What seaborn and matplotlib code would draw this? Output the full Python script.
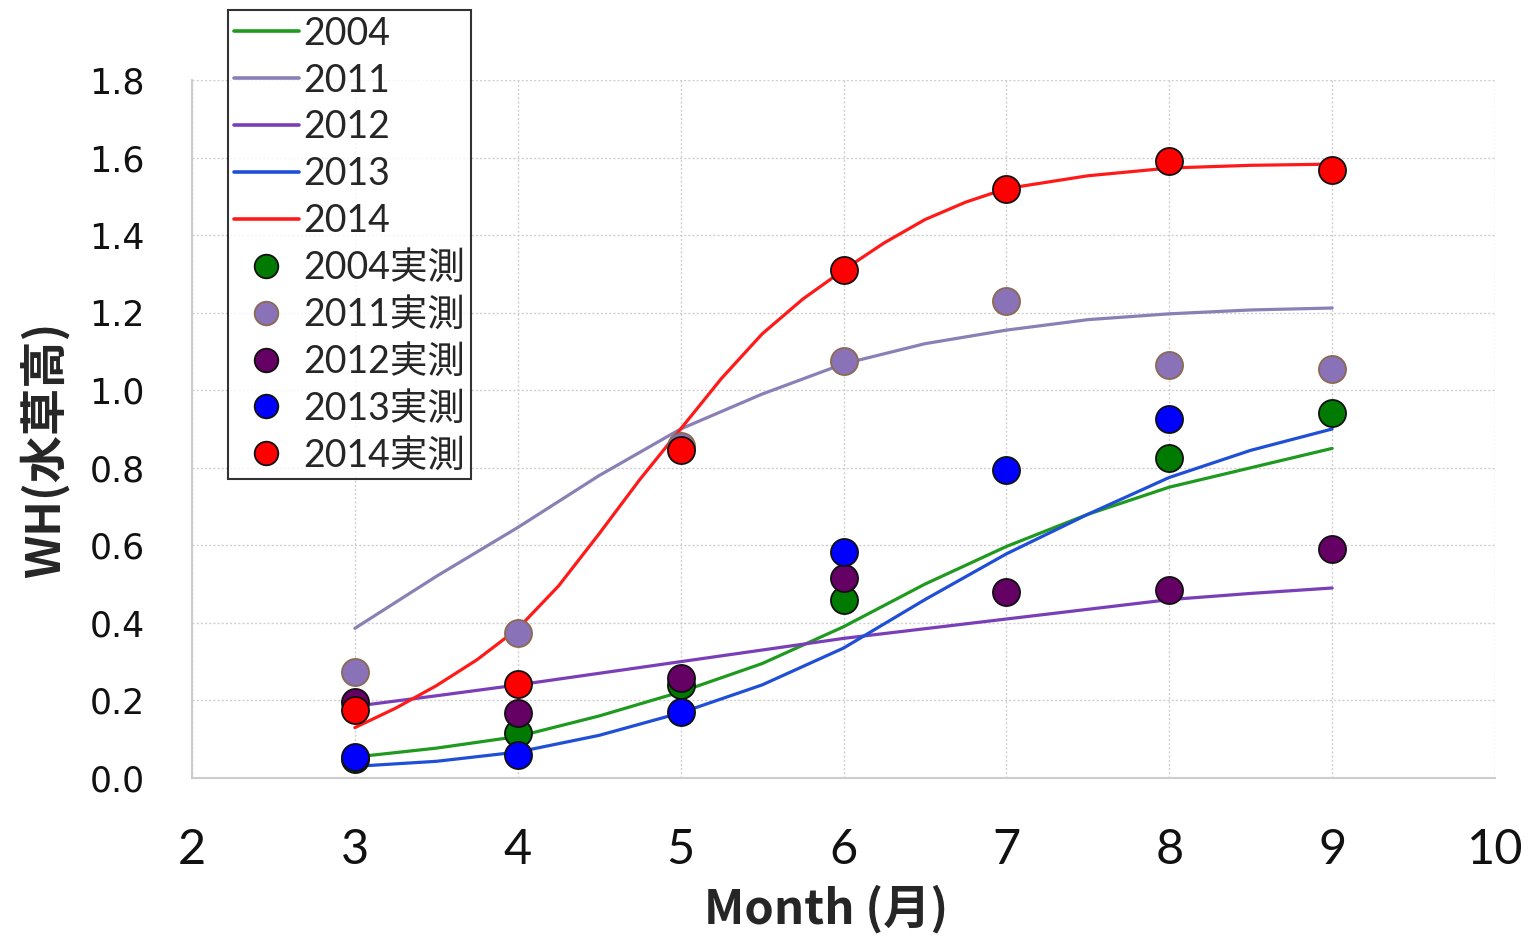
import numpy as np
import pandas as pd
import matplotlib
matplotlib.use("Agg")
import matplotlib.pyplot as plt
from matplotlib.lines import Line2D
import seaborn as sns

# ---- data -------------------------------------------------------------
years = ["2004", "2011", "2012", "2013", "2014"]

# fitted growth curves (month, WH)
fit_months = [3.0, 3.5, 4.0, 4.5, 5.0, 5.5, 6.0, 6.5, 7.0, 7.5, 8.0, 8.5, 9.0]
fit_2004 = [0.054, 0.077, 0.107, 0.16, 0.222, 0.295, 0.39, 0.50, 0.597, 0.68, 0.75, 0.80, 0.85]
fit_2011 = [0.386, 0.52, 0.646, 0.78, 0.90, 0.99, 1.068, 1.12, 1.155, 1.182, 1.197, 1.207, 1.212]
fit_2012 = [0.185, 0.212, 0.24, 0.27, 0.30, 0.33, 0.36, 0.385, 0.41, 0.435, 0.46, 0.476, 0.49]
fit_2013 = [0.03, 0.043, 0.067, 0.11, 0.168, 0.24, 0.335, 0.46, 0.578, 0.68, 0.775, 0.845, 0.90]

fit_months_2014 = [3.0, 3.25, 3.5, 3.75, 4.0, 4.25, 4.5, 4.75, 5.0, 5.25, 5.5, 5.75,
                   6.0, 6.25, 6.5, 6.75, 7.0, 7.5, 8.0, 8.5, 9.0]
fit_2014 = [0.13, 0.18, 0.238, 0.305, 0.385, 0.495, 0.63, 0.77, 0.90, 1.03, 1.145, 1.235,
            1.31, 1.38, 1.44, 1.485, 1.52, 1.553, 1.573, 1.58, 1.583]

# measured values
obs_months = [3, 4, 5, 6, 7, 8, 9]
obs_2004 = [0.05, 0.116, 0.24, 0.458, np.nan, 0.825, 0.94]
obs_2011 = [0.273, 0.373, 0.855, 1.075, 1.23, 1.065, 1.055]
obs_2012 = [0.196, 0.167, 0.257, 0.515, 0.48, 0.485, 0.59]
obs_2013 = [0.054, 0.059, 0.17, 0.582, 0.795, 0.925, np.nan]
obs_2014 = [0.175, 0.242, 0.845, 1.31, 1.52, 1.59, 1.567]

x_ticks = [2, 3, 4, 5, 6, 7, 8, 9, 10]
y_ticks = [0.0, 0.2, 0.4, 0.6, 0.8, 1.0, 1.2, 1.4, 1.6, 1.8]

# ---- styles -----------------------------------------------------------
line_colors = {"2004": "#1f9a1f", "2011": "#8b80b6", "2012": "#7a3fb8",
               "2013": "#1f4fd6", "2014": "#ff1a1a"}
point_colors = {"2004": "#007a00", "2011": "#8a72b8", "2012": "#650065",
                "2013": "#0000ff", "2014": "#ff0000"}
point_edges = {"2004": "#111111", "2011": "#8a6a50", "2012": "#111111",
               "2013": "#111111", "2014": "#111111"}

sns.set_theme(style="white")
plt.rcParams["font.family"] = ["DejaVu Sans", "Noto Sans CJK JP"]
plt.rcParams["lines.solid_joinstyle"] = "round"

fig = plt.figure(figsize=(15.29, 9.38), dpi=100)
ax = fig.add_axes([192 / 1529, 1 - 778 / 938, (1495 - 192) / 1529, (778 - 80) / 938])

# long-form table for the fitted curves
frames = []
for yr, m, v in [("2004", fit_months, fit_2004), ("2011", fit_months, fit_2011),
                 ("2012", fit_months, fit_2012), ("2013", fit_months, fit_2013),
                 ("2014", fit_months_2014, fit_2014)]:
    frames.append(pd.DataFrame({"month": m, "wh": v, "year": yr}))
fit_df = pd.concat(frames, ignore_index=True)

sns.lineplot(data=fit_df, x="month", y="wh", hue="year", palette=line_colors,
             linewidth=2.3, sort=False, estimator=None, legend=False, ax=ax, zorder=2)

obs = {"2004": obs_2004, "2011": obs_2011, "2012": obs_2012,
       "2013": obs_2013, "2014": obs_2014}
for yr in years:
    sns.scatterplot(x=obs_months, y=obs[yr], color=point_colors[yr],
                    edgecolor=point_edges[yr], linewidth=1.3, s=380,
                    ax=ax, zorder=3, legend=False)

# ---- axes -------------------------------------------------------------
ax.set_xlim(2, 10)
ax.set_ylim(0, 1.8)
ax.set_xticks(x_ticks)
ax.set_yticks(y_ticks)
ax.set_xticklabels([str(t) for t in x_ticks], fontsize=35, family=["Lato", "DejaVu Sans"])
ax.set_yticklabels([f"{t:.1f}" for t in y_ticks], fontsize=25)
ax.tick_params(axis="x", length=0, pad=36, colors="#111111")
ax.tick_params(axis="y", length=0, pad=34, colors="#111111")

ax.grid(True, linestyle=(0, (1.5, 1.5)), color="#cfcfcf", linewidth=1.0)
ax.set_axisbelow(True)
for side in ["top", "right"]:
    ax.spines[side].set_visible(False)
for side in ["left", "bottom"]:
    ax.spines[side].set_color("#cccccc")
    ax.spines[side].set_linewidth(1.5)

ax.set_xlabel("Month (月)", fontsize=34, fontweight="bold",
              family=["Noto Sans CJK JP"])
ax.set_ylabel("WH(水草高)", fontsize=34, fontweight="bold",
              family=["Noto Sans CJK JP"])
ax.xaxis.label.set_va("center")
ax.yaxis.label.set_va("center")
ax.yaxis.set_label_coords(-0.113, 0.47)
ax.xaxis.set_label_coords(0.487, -0.188)

# ---- legend -----------------------------------------------------------
handles = []
labels = []
for yr in years:
    handles.append(Line2D([0], [0], color=line_colors[yr], linewidth=2.6))
    labels.append(yr)
for yr in years:
    handles.append(Line2D([0], [0], linestyle="none", marker="o", markersize=17,
                          markerfacecolor=point_colors[yr],
                          markeredgecolor=point_edges[yr], markeredgewidth=1.3))
    labels.append(yr + "実測")

leg = fig.legend(handles, labels, loc="upper left",
                 bbox_to_anchor=(228 / 1529, 1 - 10 / 938), borderaxespad=0,
                 frameon=True, fancybox=False, edgecolor="#000000",
                 prop={"family": ["Lato", "Noto Sans CJK JP"], "size": 27},
                 handlelength=1.75, handletextpad=0.1, labelspacing=0.29,
                 borderpad=0.15)
leg.get_frame().set_linewidth(1.5)

fig.savefig("out.png", dpi=100, facecolor="white")
